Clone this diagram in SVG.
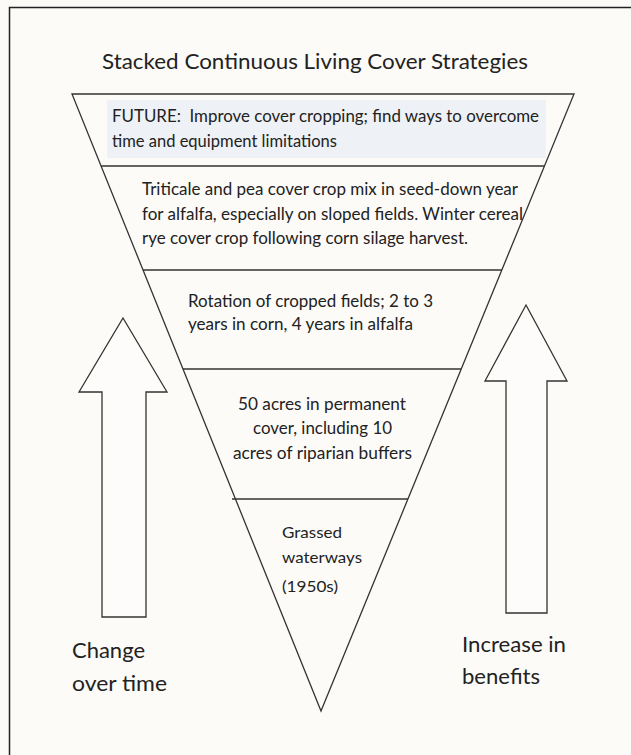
<svg xmlns="http://www.w3.org/2000/svg" width="631" height="755" viewBox="0 0 631 755">
<style>
.t{font-family:Lato,"Open Sans","Liberation Sans",sans-serif;fill:#222}
.b{font-size:16.5px}
.g{font-size:16px}
.big{font-size:21.5px}
.pre{white-space:pre}
.ln{stroke:#333;stroke-width:1.3;fill:none}
.ar{stroke:#333;stroke-width:1.3;fill:#fdfcfa}
</style>
<rect x="0" y="0" width="631" height="755" fill="#fcfbf8"/>
<path d="M9.5,755 V7.5 H631" fill="none" stroke="#222" stroke-width="1.5"/>
<text class="t big" x="102" y="69" textLength="426" lengthAdjust="spacingAndGlyphs">Stacked Continuous Living Cover Strategies</text>
<g id="funnel">
<polygon class="ln" points="72,94 574,94 321,711" fill="#fdfcfa"/>
</g>
<g id="future">
<rect x="107" y="100" width="439" height="58" fill="#eef1f5"/>
<text class="t b pre" x="112" y="122" textLength="427" lengthAdjust="spacingAndGlyphs">FUTURE:  Improve cover cropping; find ways to overcome</text>
<text class="t b" x="112" y="147" textLength="225" lengthAdjust="spacingAndGlyphs">time and equipment limitations</text>
</g>
<g id="triticale">
<text class="t b" x="142" y="195" textLength="376" lengthAdjust="spacingAndGlyphs">Triticale and pea cover crop mix in seed-down year</text>
<text class="t b" x="142" y="220" textLength="381" lengthAdjust="spacingAndGlyphs">for alfalfa, especially on sloped fields. Winter cereal</text>
<text class="t b" x="142" y="244" textLength="326" lengthAdjust="spacingAndGlyphs">rye cover crop following corn silage harvest.</text>
</g>
<g id="rotation">
<text class="t b" x="188" y="307" textLength="245" lengthAdjust="spacingAndGlyphs">Rotation of cropped fields; 2 to 3</text>
<text class="t b" x="188" y="330" textLength="225" lengthAdjust="spacingAndGlyphs">years in corn, 4 years in alfalfa</text>
</g>
<g id="permanent">
<text class="t b" x="238" y="410" textLength="168" lengthAdjust="spacingAndGlyphs">50 acres in permanent</text>
<text class="t b" x="253" y="434" textLength="139" lengthAdjust="spacingAndGlyphs">cover, including 10</text>
<text class="t b" x="233" y="459" textLength="179" lengthAdjust="spacingAndGlyphs">acres of riparian buffers</text>
</g>
<g id="grassed">
<text class="t g" x="282" y="538" textLength="60" lengthAdjust="spacingAndGlyphs">Grassed</text>
<text class="t g" x="282" y="563" textLength="80" lengthAdjust="spacingAndGlyphs">waterways</text>
<text class="t g" x="282" y="592" textLength="56" lengthAdjust="spacingAndGlyphs">(1950s)</text>
</g>
<g id="connectors">
<line class="ln" x1="101" y1="166" x2="544.5" y2="166"/>
<line class="ln" x1="143" y1="270" x2="502" y2="270" stroke-width="2"/>
<line class="ln" x1="183" y1="369" x2="461" y2="369"/>
<line class="ln" x1="232" y1="499" x2="408" y2="499" stroke-width="1.6"/>
</g>
<g id="left-arrow">
<polygon class="ar" points="123,318 167,392 146,392 146,617 102,617 102,392 79,392"/>
<text class="t big" x="72" y="658" textLength="73" lengthAdjust="spacingAndGlyphs">Change</text>
<text class="t big" x="72" y="691" textLength="95" lengthAdjust="spacingAndGlyphs">over time</text>
</g>
<g id="right-arrow">
<polygon class="ar" points="526,305 567,381 547,381 547,613 506,613 506,381 485,381"/>
<text class="t big" x="462" y="652" textLength="104" lengthAdjust="spacingAndGlyphs">Increase in</text>
<text class="t big" x="462" y="684" textLength="78" lengthAdjust="spacingAndGlyphs">benefits</text>
</g>
</svg>
